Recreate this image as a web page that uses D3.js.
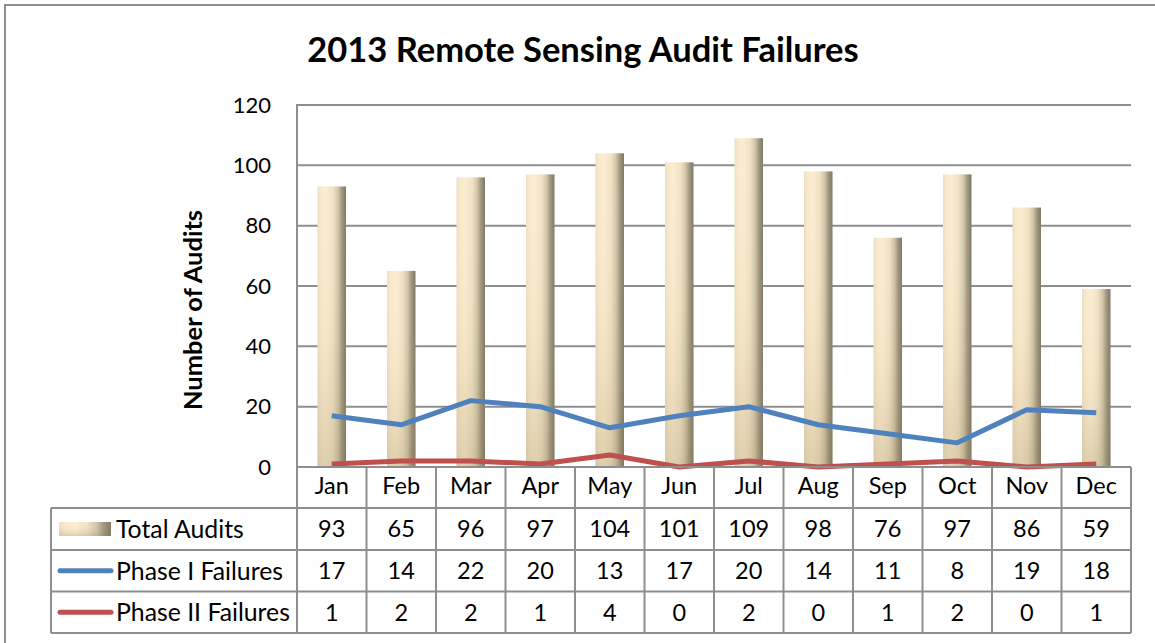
<!DOCTYPE html>
<html>
<head>
<meta charset="utf-8">
<script src="https://cdn.jsdelivr.net/npm/d3@7"></script>
<style>
html,body{margin:0;padding:0;background:#fff;}
svg{display:block;font-family:Lato,"Open Sans",sans-serif;}
</style>
</head>
<body>
<svg id="chart" width="1155" height="643"></svg>
<script>
const months = ["Jan","Feb","Mar","Apr","May","Jun","Jul","Aug","Sep","Oct","Nov","Dec"];
const totalAudits = [93,65,96,97,104,101,109,98,76,97,86,59];
const phase1Failures = [17,14,22,20,13,17,20,14,11,8,19,18];
const phase2Failures = [1,2,2,1,4,0,2,0,1,2,0,1];
const yTicks = [0,20,40,60,80,100,120];
const seriesNames = ["Total Audits","Phase I Failures","Phase II Failures"];
const titleText = "2013 Remote Sensing Audit Failures";
const yTitle = "Number of Audits";

const svg = d3.select("#chart");
const W = 1155, H = 643;
const plot = {left:297, right:1131, top:105, bottom:467};
const tableLeft = 51;
const rowLines = [467, 508, 550, 591.5, 633];
const gridCol = "#8e8e8e";
const tableFont = 23.5;
const labelFont = 24.8;

const x = d3.scaleBand().domain(months).range([plot.left, plot.right]).padding(0);
const y = d3.scaleLinear().domain([0,120]).range([plot.bottom, plot.top]);
const bw = x.bandwidth();
const barW = bw * 0.41;

// gradients
const defs = svg.append("defs");
const gh = defs.append("linearGradient").attr("id","barH").attr("x1",0).attr("x2",1).attr("y1",0).attr("y2",0);
[[0,"#ecdfc2"],[0.12,"#f9e9cc"],[0.3,"#fdedd0"],[0.55,"#efe2c5"],[0.72,"#d2c6a9"],[0.86,"#a0967f"],[1,"#7f7765"]]
  .forEach(([o,c])=>gh.append("stop").attr("offset",o).attr("stop-color",c));
const gv = defs.append("linearGradient").attr("id","barV").attr("x1",0).attr("x2",0).attr("y1",0).attr("y2",1);
[[0,"#ffffff",0],[0.5,"#b8a57a",0.07],[1,"#8c7a50",0.26]]
  .forEach(([o,c,a])=>gv.append("stop").attr("offset",o).attr("stop-color",c).attr("stop-opacity",a));

// outer border
svg.append("path").attr("d",`M5,${H+5} L5,5 L${W+5},5`).attr("fill","none").attr("stroke",gridCol).attr("stroke-width",2);

// title
svg.append("text").attr("x",583).attr("y",62).attr("text-anchor","middle")
  .attr("font-size",34.5).attr("font-weight","bold").attr("fill","#000").text(titleText);

// gridlines
svg.append("g").selectAll("line").data(yTicks).join("line")
  .attr("x1",plot.left).attr("x2",plot.right).attr("y1",d=>y(d)).attr("y2",d=>y(d))
  .attr("stroke",gridCol).attr("stroke-width",2);
svg.append("line").attr("x1",plot.left).attr("x2",plot.left).attr("y1",plot.top-1).attr("y2",plot.bottom)
  .attr("stroke",gridCol).attr("stroke-width",2);

// y axis
const yAxis = svg.append("g").attr("transform",`translate(${plot.left},0)`)
  .call(d3.axisLeft(y).tickValues(yTicks).tickSize(0).tickPadding(26));
yAxis.select(".domain").remove();
yAxis.selectAll("text").attr("font-size",22).attr("font-family","Lato").attr("fill","#000");

// y title
svg.append("text").attr("transform","translate(202,310) rotate(-90)").attr("text-anchor","middle")
  .attr("font-size",25.5).attr("font-weight","bold").attr("fill","#000").text(yTitle);

// bars
const bars = svg.append("g");
const bx = m => x(m) + (bw - barW)/2;
bars.selectAll("rect.b").data(totalAudits).join("rect").attr("class","b")
  .attr("x",(d,i)=>bx(months[i])).attr("width",barW)
  .attr("y",d=>y(d)).attr("height",d=>y(0)-y(d)).attr("fill","url(#barH)");
bars.selectAll("rect.v").data(totalAudits).join("rect").attr("class","v")
  .attr("x",(d,i)=>bx(months[i])).attr("width",barW)
  .attr("y",d=>y(d)).attr("height",d=>y(0)-y(d)).attr("fill","url(#barV)");

// lines
const line = d3.line().x((d,i)=>x(months[i])+bw/2).y(d=>y(d));
svg.append("path").datum(phase1Failures).attr("d",line).attr("fill","none")
  .attr("stroke","#4f81bd").attr("stroke-width",5).attr("stroke-linejoin","round");
svg.append("path").datum(phase2Failures).attr("d",line).attr("fill","none")
  .attr("stroke","#c0504d").attr("stroke-width",5).attr("stroke-linejoin","round");

// table
const tg = svg.append("g");
tg.append("line").attr("x1",plot.left).attr("x2",plot.right).attr("y1",rowLines[0]).attr("y2",rowLines[0]).attr("stroke",gridCol).attr("stroke-width",2);
rowLines.slice(1).forEach(ly=>{
  tg.append("line").attr("x1",tableLeft).attr("x2",plot.right).attr("y1",ly).attr("y2",ly).attr("stroke",gridCol).attr("stroke-width",2);
});
tg.append("line").attr("x1",tableLeft).attr("x2",tableLeft).attr("y1",rowLines[1]).attr("y2",rowLines[4]).attr("stroke",gridCol).attr("stroke-width",2);
const colEdges = months.map(m=>x(m)).concat([plot.right]);
tg.selectAll("line.v").data(colEdges).join("line").attr("class","v")
  .attr("x1",d=>d).attr("x2",d=>d).attr("y1",rowLines[0]).attr("y2",rowLines[4])
  .attr("stroke",gridCol).attr("stroke-width",2);

// month labels
const xAxis = svg.append("g").attr("transform",`translate(0,${plot.bottom})`)
  .call(d3.axisBottom(x).tickSize(0).tickPadding(10));
xAxis.select(".domain").remove();
xAxis.selectAll("text").attr("font-size",tableFont).attr("font-family","Lato").attr("fill","#000");

// values rows
const rows = [totalAudits, phase1Failures, phase2Failures];
rows.forEach((vals,r)=>{
  const cy = (rowLines[r+1]+rowLines[r+2])/2;
  tg.selectAll(`text.r${r}`).data(vals).join("text").attr("class",`r${r}`)
    .attr("x",(d,i)=>x(months[i])+bw/2).attr("y",cy).attr("dy","0.36em")
    .attr("text-anchor","middle").attr("font-size",tableFont).attr("fill","#000").text(d=>d);
  tg.append("text").attr("x",116).attr("y",cy).attr("dy","0.36em").attr("font-size",labelFont).attr("fill","#000").text(seriesNames[r]);
});
// legend keys
const r1 = (rowLines[1]+rowLines[2])/2;
tg.append("rect").attr("x",59).attr("y",r1-7).attr("width",52).attr("height",14).attr("fill","url(#barH)");
tg.append("rect").attr("x",59).attr("y",r1-7).attr("width",52).attr("height",14).attr("fill","url(#barV)");
const r2 = (rowLines[2]+rowLines[3])/2, r3 = (rowLines[3]+rowLines[4])/2;
tg.append("line").attr("x1",60).attr("x2",111).attr("y1",r2).attr("y2",r2).attr("stroke","#4f81bd").attr("stroke-width",5).attr("stroke-linecap","round");
tg.append("line").attr("x1",60).attr("x2",111).attr("y1",r3).attr("y2",r3).attr("stroke","#c0504d").attr("stroke-width",5).attr("stroke-linecap","round");
</script>
</body>
</html>
